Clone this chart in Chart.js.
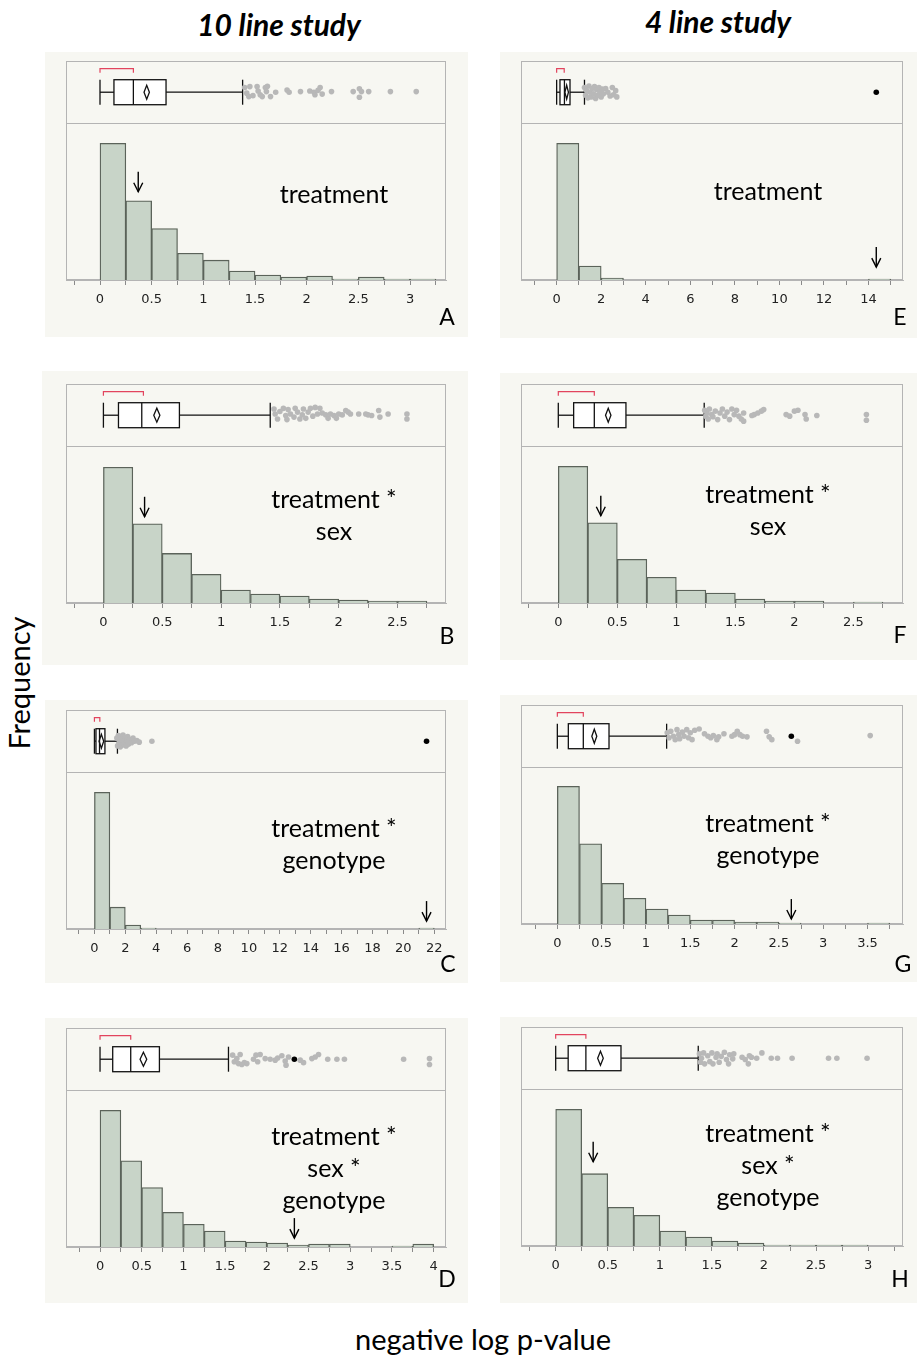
<!DOCTYPE html>
<html>
<head>
<meta charset="utf-8">
<script src="https://cdn.jsdelivr.net/npm/chart.js@4.4.1/dist/chart.umd.min.js"></script>
<style>
  body { margin: 0; width: 917px; height: 1358px; position: relative; background: #fff; overflow: hidden;
         font-family: Lato, "Open Sans", sans-serif; color: #000; }
  .bg { position: absolute; background: #f7f7f2; }
  canvas { position: absolute; }
  .t { position: absolute; transform: translate(-50%, -50%); white-space: nowrap; line-height: 1; }
  .title { font-weight: 700; font-style: italic; font-size: 30px; }
  .term { font-size: 25px; }
  .tag { font-size: 23px; }
  .axis { font-size: 29px; }
</style>
</head>
<body>
<div class="t title" style="left:279px;top:24px">10 line study</div>
<div class="t title" style="left:718px;top:21px">4 line study</div>
<div class="t axis" style="left:18px;top:683px;transform:translate(-50%,-50%) rotate(-90deg)">Frequency</div>
<div class="t axis" style="left:483px;top:1338px">negative log p-value</div>
<script>
// ---- 10 line study ----
// histogram counts per bin, first bin starts at 0
const countsA = [138, 80, 52, 27, 20, 9, 5, 3, 4, 1, 3, 1, 1];
const countsB = [137, 80, 50, 29, 13, 9, 7, 4, 3, 2, 2];
const countsC = [138, 22, 4, 1, 0, 0, 0, 0, 0, 0, 0, 0, 0, 0, 0, 0, 0, 0, 0, 0, 0, 1];
const countsD = [138, 87, 60, 35, 23, 16, 6, 5, 4, 2, 3, 3, 0, 0, 1, 3];
// ---- 4 line study ----
const countsE = [138, 14, 2, 0, 0, 0, 0, 0, 0, 0, 0, 0, 0, 0, 1];
const countsF = [138, 81, 44, 26, 13, 10, 4, 2, 2, 0, 1];
const countsG = [139, 81, 41, 26, 15, 9, 4, 4, 2, 2, 1, 0, 0, 0, 1];
const countsH = [138, 73, 39, 31, 15, 9, 5, 3, 1, 1, 1, 1];

// box summaries: [whisker low, q1, median, q3, whisker high]
const boxA = [0, 0.135, 0.323, 0.639, 1.38];
const boxB = [0, 0.128, 0.326, 0.646, 1.418];
const boxC = [0, 0.1, 0.33, 0.68, 1.49];
const boxD = [0, 0.152, 0.368, 0.712, 1.54];
const boxE = [0, 0.15, 0.35, 0.6, 1.25];
const boxF = [0, 0.13, 0.305, 0.573, 1.236];
const boxG = [0, 0.124, 0.293, 0.583, 1.233];
const boxH = [0, 0.12, 0.29, 0.627, 1.369];

// mean and half width of the means diamond
const meanA = [0.452, 0.026];
const meanB = [0.454, 0.026];
const meanC = [0.45, 0.15];
const meanD = [0.52, 0.04];
const meanE = [0.45, 0.08];
const meanF = [0.423, 0.023];
const meanG = [0.417, 0.028];
const meanH = [0.43, 0.027];

// shortest half
const halfA = [0, 0.323];
const halfB = [0, 0.34];
const halfC = [0, 0.35];
const halfD = [0, 0.368];
const halfE = [0, 0.34];
const halfF = [0, 0.305];
const halfG = [0, 0.293];
const halfH = [0, 0.29];

// points past the upper whisker, with their vertical jitter
const outA = [1.40, 1.45, 1.42, 1.44, 1.48, 1.52, 1.53, 1.55, 1.57, 1.60, 1.61, 1.62, 1.65, 1.70, 1.81, 1.83,
  1.94, 2.03, 2.07, 2.08, 2.11, 2.13, 2.15, 2.24, 2.45, 2.51, 2.53, 2.51, 2.60, 2.81, 3.06];
const jitA = [0.15, 0.18, -0.03, -0.14, -0.11, 0.18, 0.04, -0.08, -0.14, 0.15, 0.02, 0.19, -0.14, 0, 0.07, 0,
  0.02, 0.04, 0, -0.08, 0.06, 0.15, -0.06, 0.02, 0.02, 0.11, 0.02, -0.16, 0.02, 0.02, 0.02];
const outB = [1.45, 1.46, 1.48, 1.50, 1.53, 1.55, 1.56, 1.57, 1.59, 1.62, 1.63, 1.65, 1.67, 1.69, 1.70, 1.72,
  1.74, 1.76, 1.78, 1.80, 1.82, 1.84, 1.86, 1.89, 1.91, 1.93, 1.96, 1.98, 2.00, 2.03, 2.06, 2.08, 2.10, 2.17,
  2.23, 2.25, 2.28, 2.34, 2.35, 2.42, 2.58, 2.58];
const jitB = [0.2, 0.04, -0.12, 0.12, 0.22, -0.01, -0.14, 0.18, 0.04, -0.06, 0.22, 0.1, -0.12, 0.01, 0.2, -0.1,
  0.1, 0.22, -0.03, 0.25, 0.04, 0.22, 0.07, 0.01, -0.1, 0.04, -0.01, -0.1, 0.04, 0.01, 0.15, 0.1, 0.04, 0.04,
  0.04, 0.01, -0.01, 0.15, -0.06, 0.04, 0.04, -0.12];
const outC = [1.45, 1.5, 1.55, 1.6, 1.62, 1.68, 1.7, 1.75, 1.8, 1.85, 1.88, 1.92, 2.0, 2.05, 2.1, 2.15, 2.2,
  2.3, 2.4, 2.5, 2.6, 2.75, 2.9, 3.72];
const jitC = [0.1, -0.15, 0.18, -0.05, 0.05, -0.18, 0.15, 0, -0.12, 0.2, 0.08, -0.08, 0.12, -0.15, 0.03, 0.15,
  -0.1, 0.05, -0.05, 0.1, 0, 0.02, -0.03, 0];
const outD = [1.59, 1.61, 1.64, 1.66, 1.68, 1.70, 1.73, 1.76, 1.84, 1.87, 1.89, 1.92, 1.98, 2.04, 2.10, 2.13,
  2.18, 2.22, 2.23, 2.26, 2.40, 2.44, 2.54, 2.58, 2.62, 2.73, 2.84, 2.93, 3.64, 3.95, 3.95];
const jitD = [0.13, -0.08, 0.02, -0.14, 0.15, -0.17, -0.11, -0.14, 0, 0.13, -0.08, 0.15, 0.02, 0, -0.03, 0.04,
  0.11, -0.06, -0.19, 0.07, -0.03, -0.11, 0.02, 0.07, 0.15, 0, 0, 0, 0, 0.02, -0.17];
const outE = [1.25, 1.3, 1.35, 1.4, 1.45, 1.5, 1.55, 1.6, 1.65, 1.7, 1.75, 1.8, 1.85, 1.9, 1.95, 2.0, 2.05, 2.1,
  2.2, 2.3, 2.4, 2.5, 2.55, 2.65, 2.7];
const jitE = [0.15, -0.1, 0.05, -0.18, 0.2, 0, -0.15, 0.12, -0.05, 0.18, -0.2, 0.08, -0.1, 0.15, 0, -0.15, 0.1,
  -0.05, 0.12, 0, -0.12, 0.15, -0.08, 0.05, -0.15];
const outF = [1.24, 1.25, 1.26, 1.27, 1.28, 1.30, 1.31, 1.33, 1.35, 1.37, 1.39, 1.41, 1.43, 1.45, 1.47, 1.49,
  1.51, 1.53, 1.55, 1.57, 1.57, 1.64, 1.66, 1.69, 1.72, 1.74, 1.93, 1.96, 2.00, 2.03, 2.09, 2.10, 2.19, 2.61, 2.61];
const jitF = [0.16, -0.03, 0.07, -0.12, 0.2, 0.02, -0.05, 0.13, -0.14, 0.07, 0.2, -0.03, 0.1, -0.14, 0.2, 0.02,
  0.16, -0.03, -0.12, 0.07, -0.19, -0.01, 0.02, 0.07, 0.13, 0.18, 0.02, -0.03, 0.13, 0.16, 0.02, -0.12, -0.01, 0.02, -0.16];
const outG = [1.24, 1.26, 1.28, 1.31, 1.33, 1.35, 1.37, 1.38, 1.41, 1.43, 1.46, 1.48, 1.50, 1.52, 1.55, 1.60,
  1.66, 1.70, 1.73, 1.76, 1.80, 1.82, 1.88, 1.97, 2.00, 2.03, 2.06, 2.09, 2.14, 2.36, 2.39, 2.42, 2.71, 3.53];
const jitG = [0.11, -0.05, 0.16, 0, -0.11, 0.21, 0.05, -0.08, 0.13, 0, 0.21, -0.05, 0.11, -0.11, 0.19, 0.23,
  0.08, 0, -0.05, 0.02, -0.11, -0.02, 0.08, 0, 0.05, 0.16, 0.05, 0, -0.02, 0.16, -0.02, -0.11, -0.16, 0.02];
const outH = [1.38, 1.39, 1.40, 1.42, 1.43, 1.46, 1.48, 1.50, 1.51, 1.54, 1.55, 1.57, 1.59, 1.62, 1.64, 1.66,
  1.67, 1.70, 1.71, 1.79, 1.82, 1.86, 1.85, 1.88, 1.93, 1.98, 2.07, 2.13, 2.27, 2.62, 2.70, 2.99];
const jitH = [0.14, -0.13, 0, 0.17, -0.18, 0.08, -0.11, 0.17, -0.18, 0.03, 0.14, -0.13, 0.06, 0.19, -0.04, -0.18,
  0.11, -0.02, 0.14, 0.03, -0.04, 0.08, -0.18, 0.03, 0, 0.17, 0, 0, 0, 0, 0, 0];

// observed value of the term (arrow)
const markA = 0.37, markB = 0.35, markC = 21.5, markD = 2.33;
const markE = 14.35, markF = 0.36, markG = 2.64, markH = 0.36;

const FRAME_H = 221, BOX_H = 63, AXIS_H = 34, PAD = 12, HIST_MAX = 158;

const panels = [
  { tag: 'A', col: 0, bg: [45, 52, 423, 285], top: 59, range: [-0.329, 3.348], step: 0.25, major: 0.5, bin: 0.25,
    counts: countsA, box: boxA, mean: meanA, half: halfA, out: outA, jit: jitA, mark: markA, tip: 89,
    term: ['treatment'], termY: 193, tagXY: [447, 316] },
  { tag: 'B', col: 0, bg: [42, 371, 426, 294], top: 382, range: [-0.318, 2.912], step: 0.25, major: 0.5, bin: 0.25,
    counts: countsB, box: boxB, mean: meanB, half: halfB, out: outB, jit: jitB, mark: markB, tip: 87,
    term: ['treatment *', 'sex'], termY: 498, tagXY: [447, 635] },
  { tag: 'C', col: 0, bg: [45, 700, 423, 283], top: 708, range: [-1.84, 22.76], step: 1, major: 2, bin: 1,
    counts: countsC, box: boxC, mean: meanC, half: halfC, out: outC, jit: jitC, mark: markC, tip: 8,
    term: ['treatment *', 'genotype'], termY: 827, tagXY: [448, 963] },
  { tag: 'D', col: 0, bg: [45, 1018, 423, 285], top: 1026, range: [-0.408, 4.148], step: 0.25, major: 0.5, bin: 0.25,
    counts: countsD, box: boxD, mean: meanD, half: halfD, out: outD, jit: jitD, mark: markD, tip: 9,
    term: ['treatment *', 'sex *', 'genotype'], termY: 1135, tagXY: [447, 1278] },
  { tag: 'E', col: 1, bg: [500, 52, 417, 286], top: 59, range: [-1.6, 15.55], step: 1, major: 2, bin: 1,
    counts: countsE, box: boxE, mean: meanE, half: halfE, out: outE, jit: jitE, mark: markE, tip: 13,
    term: ['treatment'], termY: 190, tagXY: [900, 316] },
  { tag: 'F', col: 1, bg: [500, 373, 417, 287], top: 382, range: [-0.316, 2.92], step: 0.25, major: 0.5, bin: 0.25,
    counts: countsF, box: boxF, mean: meanF, half: halfF, out: outF, jit: jitF, mark: markF, tip: 88,
    term: ['treatment *', 'sex'], termY: 493, tagXY: [900, 634] },
  { tag: 'G', col: 1, bg: [500, 695, 417, 287], top: 703, range: [-0.41, 3.90], step: 0.25, major: 0.5, bin: 0.25,
    counts: countsG, box: boxG, mean: meanG, half: halfG, out: outG, jit: jitG, mark: markG, tip: 5,
    term: ['treatment *', 'genotype'], termY: 822, tagXY: [903, 963] },
  { tag: 'H', col: 1, bg: [500, 1017, 417, 286], top: 1025, range: [-0.333, 3.335], step: 0.25, major: 0.5, bin: 0.25,
    counts: countsH, box: boxH, mean: meanH, half: halfH, out: outH, jit: jitH, mark: markH, tip: 85,
    term: ['treatment *', 'sex *', 'genotype'], termY: 1132, tagXY: [900, 1278] }
];

function addText(cls, text, x, y) {
  const d = document.createElement('div');
  d.className = 't ' + cls;
  d.textContent = text;
  d.style.left = x + 'px';
  d.style.top = y + 'px';
  document.body.appendChild(d);
}

function line(ctx, x1, y1, x2, y2) {
  ctx.beginPath();
  ctx.moveTo(x1, y1);
  ctx.lineTo(x2, y2);
  ctx.stroke();
}

// frame, outlier box plot and the arrow for one panel
function panelDecor(p) {
  return {
    id: 'panelDecor',
    beforeDatasetsDraw(chart) {
      const { ctx, chartArea: a, scales: { x, yb } } = chart;
      const X = v => x.getPixelForValue(v);
      const cy = yb.getPixelForValue(0);
      ctx.save();
      ctx.strokeStyle = '#b4b4b4';
      ctx.lineWidth = 1;
      ctx.strokeRect(a.left + 0.5, a.top + 0.5, a.width - 1, a.height - 1);
      const dv = Math.round(yb.getPixelForValue(-1)) + 0.5;
      line(ctx, a.left, dv, a.right, dv);

      const [lo, q1, med, q3, hi] = p.box;
      const hh = 12.5;
      ctx.strokeStyle = '#111';
      ctx.lineWidth = 1.3;
      line(ctx, X(lo), cy, X(q1), cy);
      line(ctx, X(q3), cy, X(hi), cy);
      line(ctx, X(lo), cy - hh, X(lo), cy + hh);
      line(ctx, X(hi), cy - hh, X(hi), cy + hh);
      ctx.fillStyle = '#fff';
      ctx.fillRect(X(q1), cy - hh, X(q3) - X(q1), 2 * hh);
      ctx.strokeRect(X(q1), cy - hh, X(q3) - X(q1), 2 * hh);
      line(ctx, X(med), cy - hh, X(med), cy + hh);

      const [m, ci] = p.mean;
      ctx.beginPath();
      ctx.moveTo(X(m - ci), cy);
      ctx.lineTo(X(m), cy - 7);
      ctx.lineTo(X(m + ci), cy);
      ctx.lineTo(X(m), cy + 7);
      ctx.closePath();
      ctx.stroke();

      const by = cy - 23.5;
      ctx.strokeStyle = '#e2445e';
      ctx.lineWidth = 1.2;
      ctx.beginPath();
      ctx.moveTo(X(p.half[0]), by + 4);
      ctx.lineTo(X(p.half[0]), by);
      ctx.lineTo(X(p.half[1]), by);
      ctx.lineTo(X(p.half[1]), by + 4);
      ctx.stroke();
      ctx.restore();
    },
    afterDatasetsDraw(chart) {
      const { ctx, scales: { x, y } } = chart;
      const ax = x.getPixelForValue(p.mark);
      const ty = y.getPixelForValue(p.tip);
      ctx.save();
      ctx.strokeStyle = '#000';
      ctx.lineWidth = 1.4;
      line(ctx, ax, ty - 20, ax, ty);
      ctx.beginPath();
      ctx.moveTo(ax - 4.5, ty - 9);
      ctx.lineTo(ax, ty);
      ctx.lineTo(ax + 4.5, ty - 9);
      ctx.stroke();
      ctx.restore();
    }
  };
}

function drawPanel(p) {
  const [bx, by, bw, bh] = p.bg;
  const bg = document.createElement('div');
  bg.className = 'bg';
  Object.assign(bg.style, { left: bx + 'px', top: by + 'px', width: bw + 'px', height: bh + 'px' });
  document.body.appendChild(bg);

  const frameL = p.col ? 521 : 66;
  const frameW = p.col ? 382 : 380;
  const w = frameW + 2 * PAD, h = FRAME_H + AXIS_H + 4;
  const cv = document.createElement('canvas');
  cv.width = w;
  cv.height = h;
  Object.assign(cv.style, { left: (frameL - PAD) + 'px', top: (p.top - 2) + 'px', width: w + 'px', height: h + 'px' });
  document.body.appendChild(cv);

  const isMajor = v => Math.abs(v / p.major - Math.round(v / p.major)) < 1e-6;
  const hist = p.counts.map((c, i) => ({ x: (i + 0.5) * p.bin, y: c }));
  const extra = p.mark > p.box[4] ? [{ x: p.mark, y: 0 }] : [];

  new Chart(cv, {
    type: 'bar',
    data: {
      datasets: [
        { type: 'scatter', data: extra, xAxisID: 'x', yAxisID: 'yb',
          pointRadius: 2.8, pointBackgroundColor: '#000', pointBorderWidth: 0 },
        { type: 'scatter', data: p.out.map((v, i) => ({ x: v, y: p.jit[i] })), xAxisID: 'x', yAxisID: 'yb',
          pointRadius: 2.8, pointBackgroundColor: '#b8b8b8', pointBorderWidth: 0 },
        { type: 'bar', data: hist, xAxisID: 'x', yAxisID: 'y',
          backgroundColor: '#c8d4c8', borderColor: '#5b635a', borderWidth: 1.3,
          barPercentage: 1, categoryPercentage: 1, grouped: false }
      ]
    },
    options: {
      responsive: false,
      animation: false,
      events: [],
      layout: { padding: { left: PAD, right: PAD, top: 2, bottom: 2 } },
      plugins: { legend: { display: false }, tooltip: { enabled: false } },
      scales: {
        x: {
          type: 'linear', position: 'bottom', offset: false,
          min: p.range[0], max: p.range[1],
          afterFit: s => { s.height = AXIS_H; },
          ticks: {
            stepSize: p.step, includeBounds: false, autoSkip: false, maxRotation: 0, minRotation: 0,
            padding: 7, color: '#222', font: { family: 'DejaVu Sans', size: 13 },
            callback: v => isMajor(v) ? String(Math.round(v * 100) / 100) : ''
          },
          grid: { offset: false, drawOnChartArea: false, drawTicks: true, tickLength: 5, color: '#8a8a8a' },
          border: { display: true, color: '#b4b4b4', width: 1 }
        },
        y: { type: 'linear', axis: 'y', display: false, min: 0, max: HIST_MAX * FRAME_H / (FRAME_H - BOX_H) },
        yb: { type: 'linear', axis: 'y', position: 'left', display: false, min: 1 - 2 * FRAME_H / BOX_H, max: 1 }
      }
    },
    plugins: [panelDecor(p)]
  });

  const tx = p.col ? 768 : 334;
  p.term.forEach((s, i) => addText('term', s, tx, p.termY + i * 32));
  addText('tag', p.tag, p.tagXY[0], p.tagXY[1]);
}

panels.forEach(drawPanel);
</script>
</body>
</html>
